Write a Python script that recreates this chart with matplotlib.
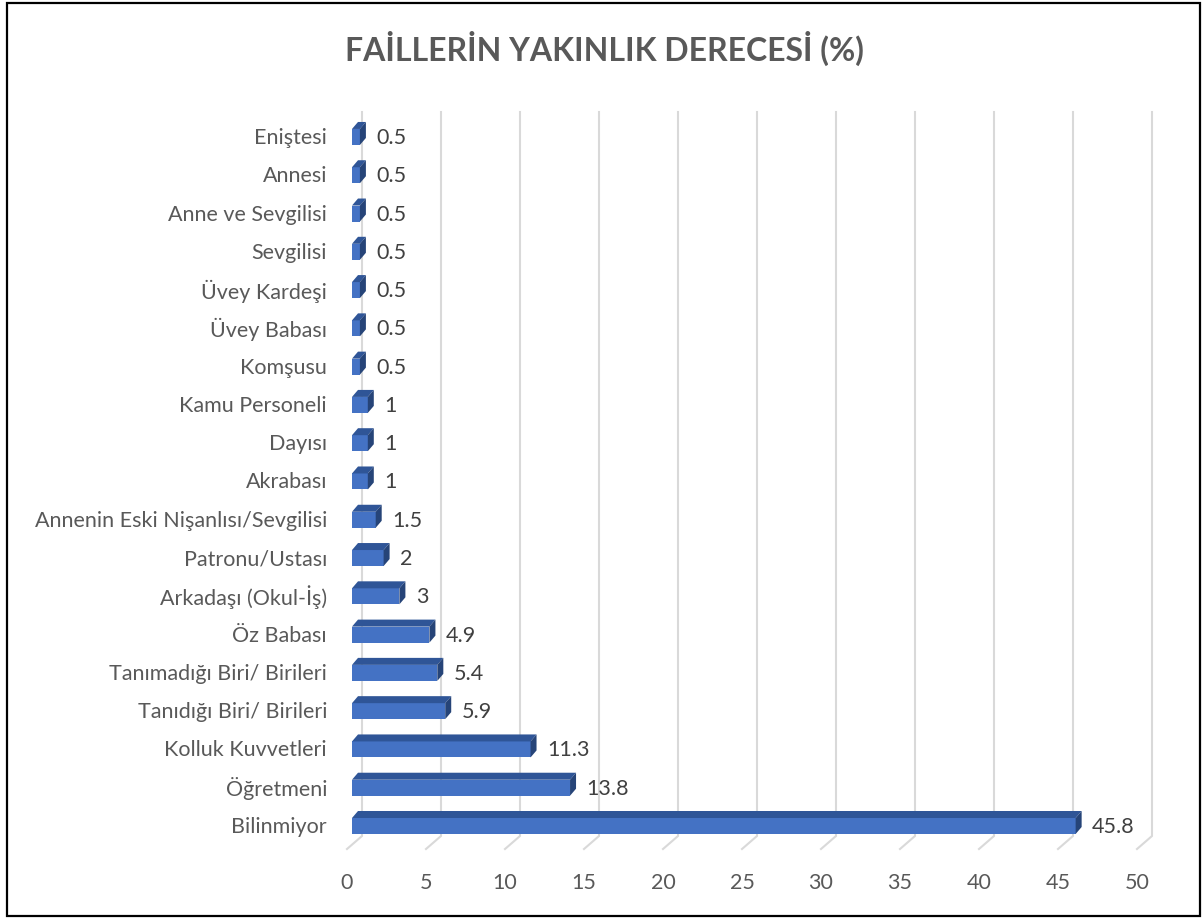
import matplotlib
matplotlib.use("Agg")
import matplotlib.pyplot as plt
from matplotlib.patches import Rectangle

plt.rcParams['font.family'] = ['Lato', 'DejaVu Sans']

# Veriler (alttan üste)
kategoriler = ["Bilinmiyor", "Öğretmeni", "Kolluk Kuvvetleri", "Tanıdığı Biri/ Birileri",
               "Tanımadığı Biri/ Birileri", "Öz Babası", "Arkadaşı (Okul-İş)", "Patronu/Ustası",
               "Annenin Eski Nişanlısı/Sevgilisi", "Akrabası", "Dayısı", "Kamu Personeli",
               "Komşusu", "Üvey Babası", "Üvey Kardeşi", "Sevgilisi", "Anne ve Sevgilisi",
               "Annesi", "Eniştesi"]
yuzdeler = [45.8, 13.8, 11.3, 5.9, 5.4, 4.9, 3, 2, 1.5, 1, 1, 1,
            0.5, 0.5, 0.5, 0.5, 0.5, 0.5, 0.5]
x_ticks = list(range(0, 55, 5))

W, H = 1202, 920
fig = plt.figure(figsize=(W / 100, H / 100), dpi=100)

# eksen piksel konumları
px_left, px_right, px_top, px_bot = 340, 1160, 100, 870
ax = fig.add_axes([px_left / W, 1 - px_bot / H, (px_right - px_left) / W, (px_bot - px_top) / H])
sx = 15.8    # piksel / birim (x)
sy = 38.28   # piksel / kategori (y)
x0 = 352     # 0 değerinin pikseli
y0 = 827     # Bilinmiyor merkezinin pikseli
ax.set_xlim(-(x0 - px_left) / sx, (px_right - x0) / sx)
ax.set_ylim(-(px_bot - y0) / sy, (y0 - px_top) / sy)
ax.axis('off')

# 3B derinlik
bar_h = 16 / sy
bdx, bdy = 6 / sx, 7 / sy          # çubuk derinliği
floor_front_dx = -5 / sx
floor_back_dx = 10 / sx
floor_front_y = -(850 - y0) / sy
floor_back_y = -(837 - y0) / sy
grid_top = (y0 - 113) / sy

fs = 15.5
grid_c = '#D9D9D9'
for t in x_ticks:
    ax.plot([t + floor_back_dx, t + floor_back_dx, t + floor_front_dx],
            [grid_top, floor_back_y, floor_front_y],
            color=grid_c, lw=1.5, zorder=1, solid_joinstyle='miter')
    ax.text(t + floor_front_dx, -(883 - y0) / sy, str(t), ha='center', va='center',
            fontsize=fs, color='#595959')

front_c = '#4472C4'
top_c = '#2F5597'
side_c = '#264478'
ys = list(range(len(kategoriler)))
ax.barh(ys, yuzdeler, height=bar_h, color=front_c, zorder=3)
for y, v in zip(ys, yuzdeler):
    yt = y + bar_h / 2
    yb = y - bar_h / 2
    ax.fill([0, v, v + bdx, bdx], [yt, yt, yt + bdy, yt + bdy], color=top_c, zorder=3, lw=0)
    ax.fill([v, v + bdx, v + bdx, v], [yb, yb + bdy, yt + bdy, yt], color=side_c, zorder=3, lw=0)
    ax.annotate(f"{v:g}", (v + bdx, y), xytext=(7.5, 0), textcoords='offset points',
                ha='left', va='center', fontsize=fs, color='#404040')
    ax.text(-(x0 - 327) / sx, y, kategoriler[y], ha='right', va='center',
            fontsize=fs, color='#595959')

fig.text(604 / W, 1 - 48 / H, "FAİLLERİN YAKINLIK DERECESİ (%)", ha='center', va='center',
         fontsize=23, fontweight='bold', color='#595959')

# dış çerçeve
fig.patches.append(Rectangle((7 / W, 3 / H), 1193 / W, 913 / H, transform=fig.transFigure,
                             fill=False, edgecolor='black', lw=1.6))

fig.savefig("out.png", dpi=100)
